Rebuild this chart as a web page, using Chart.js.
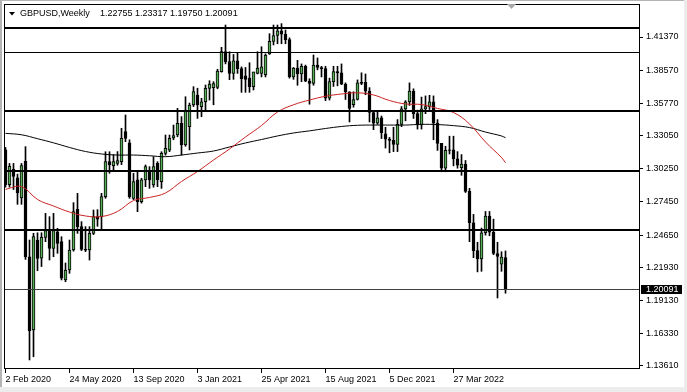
<!DOCTYPE html>
<html>
<head>
<meta charset="utf-8">
<title>GBPUSD Weekly</title>
<script src="https://cdn.jsdelivr.net/npm/chart.js@4.4.1/dist/chart.umd.min.js"></script>
<style>
  html, body { margin: 0; padding: 0; background: #fff; }
  canvas { display: block; }
</style>
</head>
<body>
<canvas id="chart" width="687" height="392"></canvas>
<script>
// weekly candles, 2 Feb 2020 .. 26 Jun 2022 (index 0 = week of 2 Feb 2020)
const open = [
  1.3185, 1.2890, 1.3020, 1.2948, 1.2780, 1.3087, 1.2282, 1.1665, 1.2424, 1.2270,
  1.2446, 1.2503, 1.2354, 1.2494, 1.2410, 1.2087, 1.2171, 1.2340, 1.2683, 1.2537,
  1.2345, 1.2340, 1.2480, 1.2621, 1.2621, 1.2790, 1.3085, 1.3052, 1.3070, 1.3085,
  1.3338, 1.3245, 1.2776, 1.2931, 1.2748, 1.2931, 1.3015, 1.2888, 1.3071, 1.2917,
  1.3155, 1.3183, 1.3286, 1.3310, 1.3408, 1.3226, 1.3380, 1.3563, 1.3648, 1.3549,
  1.3591, 1.3704, 1.3710, 1.3712, 1.3844, 1.4013, 1.3929, 1.3830, 1.3935, 1.3870,
  1.3810, 1.3790, 1.3718, 1.3830, 1.3830, 1.3820, 1.3995, 1.4100, 1.4150, 1.4190,
  1.4160, 1.4115, 1.3800, 1.3875, 1.3825, 1.3890, 1.3765, 1.3745, 1.3900, 1.3880,
  1.3870, 1.3620, 1.3760, 1.3845, 1.3835, 1.3740, 1.3675, 1.3565, 1.3610, 1.3755,
  1.3755, 1.3680, 1.3500, 1.3410, 1.3455, 1.3320, 1.3275, 1.3265, 1.3230, 1.3400,
  1.3530, 1.3590, 1.3680, 1.3490, 1.3395, 1.3530, 1.3550, 1.3590, 1.3410, 1.3240,
  1.3030, 1.3185, 1.3185, 1.3110, 1.3035, 1.3065, 1.2835, 1.2570, 1.2335, 1.2265,
  1.2485, 1.2625, 1.2490, 1.2310, 1.2220, 1.22755
];
const high = [
  1.3205, 1.3070, 1.3070, 1.2980, 1.3070, 1.3212, 1.2424, 1.2481, 1.2485, 1.2485,
  1.2649, 1.2621, 1.2649, 1.2523, 1.2452, 1.2230, 1.2424, 1.2739, 1.2818, 1.2579,
  1.2537, 1.2537, 1.2677, 1.2680, 1.2818, 1.3169, 1.3169, 1.3145, 1.3170, 1.3367,
  1.3479, 1.3270, 1.2987, 1.3001, 1.2945, 1.3057, 1.3043, 1.3127, 1.3085, 1.3169,
  1.3310, 1.3310, 1.3394, 1.3535, 1.3465, 1.3633, 1.3580, 1.3718, 1.3705, 1.3620,
  1.3732, 1.3768, 1.3760, 1.3865, 1.4050, 1.4238, 1.4013, 1.3990, 1.4000, 1.3885,
  1.3880, 1.3920, 1.3840, 1.4013, 1.4055, 1.3995, 1.4165, 1.4238, 1.4238, 1.4250,
  1.4196, 1.4130, 1.3880, 1.3940, 1.3910, 1.3900, 1.3785, 1.3985, 1.3960, 1.3890,
  1.3890, 1.3790, 1.3890, 1.3890, 1.3910, 1.3750, 1.3675, 1.3675, 1.3775, 1.3835,
  1.3825, 1.3710, 1.3515, 1.3515, 1.3470, 1.3375, 1.3290, 1.3375, 1.3440, 1.3550,
  1.3600, 1.3750, 1.3700, 1.3520, 1.3630, 1.3640, 1.3645, 1.3640, 1.3440, 1.3240,
  1.3215, 1.3300, 1.3300, 1.3170, 1.3145, 1.3095, 1.2860, 1.2640, 1.2405, 1.2525,
  1.2665, 1.2665, 1.2600, 1.2405, 1.2325, 1.23317
];
const low = [
  1.2870, 1.2870, 1.2850, 1.2725, 1.2725, 1.2260, 1.1412, 1.1439, 1.2165, 1.2200,
  1.2410, 1.2255, 1.2283, 1.2312, 1.2087, 1.2072, 1.2143, 1.2330, 1.2480, 1.2335,
  1.2326, 1.2255, 1.2470, 1.2540, 1.2509, 1.2776, 1.2987, 1.3009, 1.3055, 1.3060,
  1.3254, 1.2776, 1.2765, 1.2663, 1.2735, 1.2874, 1.2860, 1.2870, 1.2874, 1.2860,
  1.3140, 1.3170, 1.3270, 1.3295, 1.3141, 1.3215, 1.3184, 1.3550, 1.3450, 1.3465,
  1.3520, 1.3605, 1.3565, 1.3700, 1.3840, 1.3910, 1.3777, 1.3780, 1.3830, 1.3670,
  1.3670, 1.3670, 1.3690, 1.3825, 1.3800, 1.3800, 1.3990, 1.4070, 1.4080, 1.4080,
  1.4080, 1.3790, 1.3780, 1.3730, 1.3760, 1.3760, 1.3570, 1.3730, 1.3860, 1.3800,
  1.3600, 1.3605, 1.3720, 1.3725, 1.3735, 1.3610, 1.3420, 1.3545, 1.3605, 1.3735,
  1.3650, 1.3420, 1.3355, 1.3400, 1.3280, 1.3200, 1.3160, 1.3170, 1.3170, 1.3380,
  1.3430, 1.3560, 1.3450, 1.3360, 1.3360, 1.3490, 1.3525, 1.3270, 1.3180, 1.3000,
  1.3000, 1.3150, 1.3050, 1.3030, 1.2970, 1.2825, 1.2410, 1.2275, 1.2155, 1.2160,
  1.2465, 1.2460, 1.2300, 1.1935, 1.2160, 1.19750
];
const close = [
  1.2890, 1.3045, 1.2960, 1.2821, 1.3052, 1.2282, 1.1660, 1.2452, 1.2268, 1.2446,
  1.2503, 1.2354, 1.2503, 1.2396, 1.2101, 1.2171, 1.2340, 1.2664, 1.2537, 1.2345,
  1.2338, 1.2480, 1.2621, 1.2600, 1.2790, 1.3085, 1.3057, 1.3085, 1.3095, 1.3282,
  1.3282, 1.2790, 1.2917, 1.2748, 1.2931, 1.3043, 1.2931, 1.3043, 1.2931, 1.3155,
  1.3198, 1.3282, 1.3306, 1.3408, 1.3226, 1.3521, 1.3563, 1.3676, 1.3563, 1.3591,
  1.3704, 1.3740, 1.3745, 1.3850, 1.4013, 1.3929, 1.3830, 1.3935, 1.3870, 1.3785,
  1.3780, 1.3718, 1.3844, 1.3875, 1.3885, 1.3985, 1.4100, 1.4150, 1.4190, 1.4160,
  1.4115, 1.3800, 1.3875, 1.3825, 1.3890, 1.3765, 1.3745, 1.3900, 1.3880, 1.3870,
  1.3620, 1.3760, 1.3845, 1.3835, 1.3740, 1.3675, 1.3535, 1.3610, 1.3750, 1.3745,
  1.3680, 1.3500, 1.3410, 1.3455, 1.3330, 1.3275, 1.3265, 1.3230, 1.3400, 1.3530,
  1.3590, 1.3680, 1.3490, 1.3395, 1.3530, 1.3550, 1.3590, 1.3410, 1.3240, 1.3030,
  1.3180, 1.3180, 1.3110, 1.3055, 1.3065, 1.2835, 1.2570, 1.2335, 1.2265, 1.2485,
  1.2625, 1.2490, 1.2310, 1.2285, 1.2280, 1.20091
];

// moving averages every 4 weeks
const maIdx = [0, 4, 8, 12, 16, 20, 24, 28, 32, 36, 40, 44, 48, 52, 56, 60, 64,
  68, 72, 76, 80, 84, 88, 92, 96, 100, 104, 108, 112, 116, 120, 124, 125];
const maRed = [1.2852, 1.2874, 1.2766, 1.2711, 1.2660, 1.2627, 1.2622, 1.2665,
  1.2757, 1.2783, 1.2821, 1.2918, 1.3002, 1.3099, 1.3192, 1.3293, 1.3390, 1.3504,
  1.3565, 1.3605, 1.3637, 1.3656, 1.3666, 1.3648, 1.3601, 1.3572, 1.3567, 1.3534,
  1.3500, 1.3403, 1.3251, 1.3120, 1.3076];
const maBlack = [1.3324, 1.3312, 1.3279, 1.3244, 1.3205, 1.3171, 1.3150, 1.3141,
  1.3141, 1.3135, 1.3127, 1.3141, 1.3158, 1.3175, 1.3209, 1.3243, 1.3272, 1.3302,
  1.3327, 1.3345, 1.3365, 1.3382, 1.3392, 1.3394, 1.3394, 1.3394, 1.3400, 1.3398,
  1.3389, 1.3373, 1.3335, 1.3302, 1.3287];

// horizontal levels drawn on the chart
const levels = [1.4216, 1.4008, 1.3515, 1.3006, 1.2511];
const levelWidth = [2, 1, 2, 2, 2];

const yTicks = [1.41370, 1.38570, 1.35770, 1.33050, 1.30250, 1.27450, 1.24650,
  1.21930, 1.19130, 1.16330, 1.13610];
const xTickIdx = [0, 16, 32, 48, 64, 80, 96, 112];
const xTickLabels = ["2 Feb 2020", "24 May 2020", "13 Sep 2020", "3 Jan 2021",
  "25 Apr 2021", "15 Aug 2021", "5 Dec 2021", "27 Mar 2022"];
const symbol = "GBPUSD,Weekly";

const FONT = '"Liberation Sans", Arial, sans-serif';
const green = "#58ad58";
const last = close.length - 1;

const bodyColors = close.map((c, i) => c >= open[i] ? green : "#000");
const wicks = low.map((l, i) => ({ x: i, y: [l, high[i]] }));
const bodies = open.map((o, i) => ({ x: i, y: [o, close[i]] }));

// title, levels, frame and price tag
const overlay = {
  id: "overlay",
  beforeDraw(chart) {
    const c = chart.ctx;
    c.save();
    c.fillStyle = "#fff";
    c.fillRect(0, 0, chart.width, chart.height);
    c.fillStyle = "#b4b4b4";
    c.fillRect(0, 0, 2, chart.height);
    c.fillRect(0, 0, chart.width, 1);
    c.fillStyle = "#ececec";
    c.fillRect(0, chart.height - 5, chart.width, 5);
    c.fillRect(chart.width - 3, 0, 3, chart.height);
    c.restore();
  },
  afterDatasetsDraw(chart) {
    const c = chart.ctx, a = chart.chartArea, ys = chart.scales.y;
    c.save();
    levels.forEach((v, k) => {
      const w = levelWidth[k];
      let y = Math.round(ys.getPixelForValue(v));
      if (w % 2) y += 0.5;
      c.strokeStyle = "#000";
      c.lineWidth = w;
      c.beginPath();
      c.moveTo(a.left, y);
      c.lineTo(a.right, y);
      c.stroke();
    });
    // current price line
    const py = Math.round(ys.getPixelForValue(close[last])) + 0.5;
    c.strokeStyle = "#404040";
    c.lineWidth = 1;
    c.beginPath();
    c.moveTo(a.left, py);
    c.lineTo(a.right, py);
    c.stroke();
    // frame
    c.strokeStyle = "#000";
    c.strokeRect(a.left + 0.5, a.top + 0.5, a.right - a.left - 1, a.bottom - a.top - 1);
    // title
    c.fillStyle = "#000";
    c.beginPath();
    c.moveTo(9, 12); c.lineTo(15, 12); c.lineTo(12, 15.5);
    c.closePath();
    c.fill();
    c.font = "9px " + FONT;
    c.textBaseline = "alphabetic";
    c.fillText(symbol, 20, 16);
    c.fillText([open[last], high[last], low[last], close[last]].map(v => v.toFixed(5)).join(" "), 100, 16);
    // shift marker
    c.fillStyle = "#a8a8a8";
    c.beginPath();
    c.moveTo(507, 4); c.lineTo(516, 4); c.lineTo(511.5, 9);
    c.closePath();
    c.fill();
    c.restore();
  },
  afterDraw(chart) {
    const c = chart.ctx, a = chart.chartArea, ys = chart.scales.y;
    const py = Math.round(ys.getPixelForValue(close[last]));
    c.save();
    c.fillStyle = "#000";
    c.fillRect(a.right + 1, py - 4, 41, 9);
    c.fillStyle = "#fff";
    c.font = "9px " + FONT;
    c.textBaseline = "middle";
    c.fillText(close[last].toFixed(5), a.right + 6, py + 0.5);
    c.restore();
  }
};

new Chart(document.getElementById("chart"), {
  type: "bar",
  data: {
    datasets: [
      {
        type: "line", data: maIdx.map((x, k) => ({ x, y: maRed[k] })),
        borderColor: "#cc2222", borderWidth: 1, pointRadius: 0, tension: 0.4, order: -2
      },
      {
        type: "line", data: maIdx.map((x, k) => ({ x, y: maBlack[k] })),
        borderColor: "#000", borderWidth: 1, pointRadius: 0, tension: 0.4, order: -1
      },
      {
        data: bodies, backgroundColor: bodyColors, borderColor: "#000",
        borderWidth: 1, borderSkipped: false, barThickness: 3, grouped: false, order: 0
      },
      {
        data: wicks, backgroundColor: "#000", borderWidth: 0,
        barThickness: 1, grouped: false, order: 1
      }
    ]
  },
  options: {
    responsive: false,
    animation: false,
    events: [],
    layout: { padding: { left: 4, top: 4, right: 0, bottom: 0 } },
    plugins: { legend: { display: false }, tooltip: { enabled: false } },
    scales: {
      x: {
        type: "linear",
        min: -0.375,
        max: 158.625,
        offset: false,
        border: { display: false },
        grid: { offset: false, drawOnChartArea: false, drawTicks: true, tickLength: 4, color: "#000" },
        afterBuildTicks: axis => { axis.ticks = xTickIdx.map(v => ({ value: v })); },
        afterFit: axis => { axis.height = 23; axis.paddingLeft = 0; axis.paddingRight = 0; },
        ticks: {
          autoSkip: false, maxRotation: 0, align: "start", padding: 1,
          color: "#000", font: { family: FONT, size: 9 },
          callback: (v, i) => xTickLabels[i]
        }
      },
      y: {
        position: "right",
        min: 1.13356,
        max: 1.44155,
        border: { display: false },
        grid: { drawOnChartArea: false, drawTicks: true, tickLength: 3, color: "#000" },
        afterBuildTicks: axis => { axis.ticks = yTicks.map(v => ({ value: v })); },
        afterFit: axis => { axis.width = 47; axis.paddingTop = 0; axis.paddingBottom = 0; },
        ticks: {
          padding: 3, color: "#000", font: { family: FONT, size: 9 },
          callback: v => v.toFixed(5)
        }
      }
    }
  },
  plugins: [overlay]
});
</script>
</body>
</html>
